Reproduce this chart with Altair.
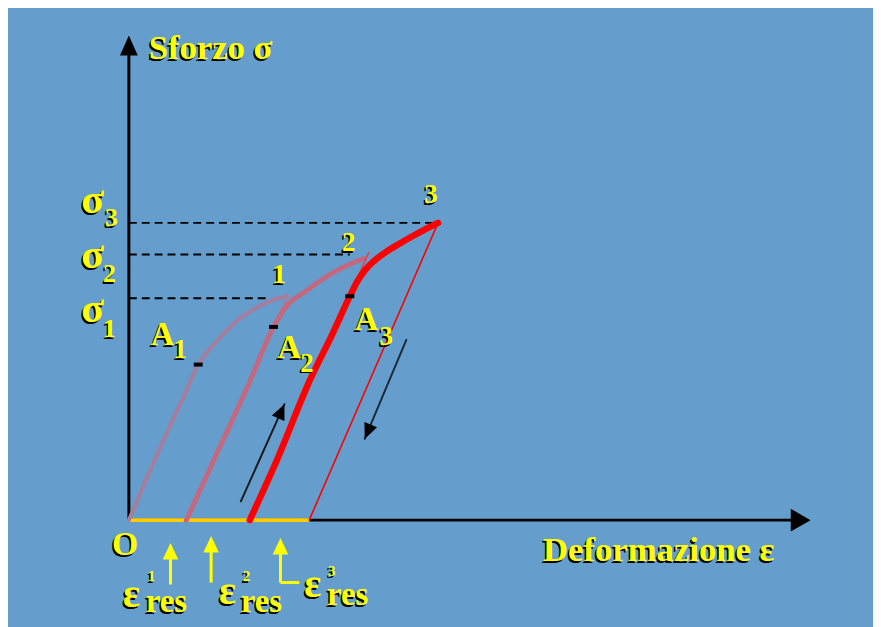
import altair as alt
import pandas as pd

# ---- data (strain eps, stress sigma in arbitrary units) ----
curve1_eps = [0.0, 2.0, 4.0, 5.5, 7.0, 9.0, 11.0, 13.0, 14.5, 16.0]
curve1_sig = [0.0, 4.7, 9.2, 12.4, 15.7, 18.2, 20.2, 21.5, 22.2, 22.6]
curve2_eps = [5.8, 9.0, 12.0, 14.6, 16.0, 17.7, 21.0, 22.7, 23.7]
curve2_sig = [0.0, 7.0, 13.5, 19.5, 21.7, 23.0, 25.2, 26.0, 26.4]
curve3_eps = [12.2, 15.0, 18.3, 20.5, 22.3, 23.0, 23.8, 24.8, 26.0, 27.3, 28.7, 30.0, 31.2]
curve3_sig = [0.0, 6.2, 14.2, 18.7, 22.6, 24.0, 25.2, 26.2, 27.1, 27.9, 28.7, 29.4, 30.0]

peak_eps = [16.0, 24.2, 31.2]
peak_sig = [22.6, 27.0, 30.0]
eps_res = [5.8, 12.2, 18.2]
sigma_levels = [22.4, 26.8, 30.0]
dash_end_eps = [14.0, 22.3, 31.0]
A_eps = [7.0, 14.6, 22.3]
A_sig = [15.7, 19.5, 22.6]

axis_eps_end = 68.8
axis_sig_end = 48.9

load_arrow_eps = [11.3, 15.7]
load_arrow_sig = [1.9, 11.7]
unload_arrow_eps = [28.0, 23.8]
unload_arrow_sig = [18.2, 8.2]

res_arrow_eps = [4.2, 8.3, 15.3]
res_arrow_tip = [-2.3, -1.6, -1.8]
res_arrow_bottom = [-6.5, -6.3, -6.3]
res_arrow3_hook_end = 17.2

label_text = ["Sforzo σ", "Deformazione ε", "O",
              "σ", "3", "σ", "2", "σ", "1",
              "1", "2", "3",
              "A", "1", "A", "2", "A", "3",
              "ε", "1", "res", "ε", "2", "res", "ε", "3", "res"]
label_eps = [2.0, 41.8, -1.7,
             -4.8, -2.4, -4.8, -2.6, -4.8, -2.6,
             14.5, 21.5, 29.8,
             2.2, 4.5, 15.0, 17.3, 22.8, 25.3,
             -0.6, 1.9, 1.7, 9.1, 11.5, 11.3, 17.7, 20.1, 20.0]
label_sig = [46.5, -4.1, -3.5,
             31.0, 29.7, 25.4, 24.0, 20.0, 18.5,
             23.9, 27.2, 32.0,
             17.7, 16.4, 16.4, 15.0, 19.2, 17.7,
             -8.8, -6.1, -9.3, -8.5, -6.1, -9.3, -7.8, -5.6, -8.6]
label_size = [35, 35, 34,
              42, 26, 42, 26, 42, 26,
              27, 27, 27,
              33, 27, 33, 27, 33, 27,
              40, 15, 33, 40, 15, 33, 40, 15, 33]

# ---- scales ----
XS = alt.Scale(domain=[0, 70], range=[122, 822], nice=False, zero=False)
YS = alt.Scale(domain=[0, 50], range=[514, 14], nice=False, zero=False)


def X(f="eps"):
    return alt.X(f"{f}:Q", scale=XS, axis=None)


def Y(f="sig"):
    return alt.Y(f"{f}:Q", scale=YS, axis=None)


def line_df(eps, sig):
    return pd.DataFrame({"eps": eps, "sig": sig, "i": list(range(len(eps)))})


def curve(eps, sig, color, width, smooth=False):
    kw = dict(color=color, strokeWidth=width, strokeCap="round", strokeJoin="round")
    if smooth:
        kw["interpolate"] = "monotone"
    return alt.Chart(line_df(eps, sig)).mark_line(**kw).encode(
        x=X(), y=Y(), order=alt.Order("i:Q"))


layers = []

# axes
layers.append(alt.Chart(pd.DataFrame({"eps": [0.0], "sig": [0.0], "sig2": [axis_sig_end - 1.8]}))
              .mark_rule(color="black", strokeWidth=3)
              .encode(x=X(), y=Y(), y2="sig2:Q"))
layers.append(alt.Chart(pd.DataFrame({"eps": [0.0], "eps2": [axis_eps_end - 1.8], "sig": [0.0]}))
              .mark_rule(color="black", strokeWidth=3)
              .encode(x=X(), x2="eps2:Q", y=Y()))
layers.append(alt.Chart(pd.DataFrame({"eps": [0.0], "sig": [axis_sig_end]}))
              .mark_point(shape="M0,0L-0.9,2L0.9,2Z", filled=True, size=400,
                          color="black", opacity=1)
              .encode(x=X(), y=Y()))
layers.append(alt.Chart(pd.DataFrame({"eps": [axis_eps_end], "sig": [0.0]}))
              .mark_point(shape="M0,0L-2,-1.15L-2,1.15Z", filled=True, size=400,
                          color="black", opacity=1)
              .encode(x=X(), y=Y()))

# yellow residual strain segment
layers.append(alt.Chart(pd.DataFrame({"eps": [0.0], "eps2": [eps_res[2]], "sig": [0.0]}))
              .mark_rule(color="#ffcc00", strokeWidth=4)
              .encode(x=X(), x2="eps2:Q", y=Y()))

# dashed sigma levels
layers.append(alt.Chart(pd.DataFrame({"eps": [0.0] * 3, "eps2": dash_end_eps, "sig": sigma_levels}))
              .mark_rule(color="black", strokeWidth=2, strokeDash=[8, 5])
              .encode(x=X(), x2="eps2:Q", y=Y()))

# curves and unloading lines
layers.append(curve(curve1_eps, curve1_sig, "#a67d9c", 4, smooth=True))
layers.append(curve([peak_eps[0], eps_res[0]], [peak_sig[0], 0.0], "#b27a92", 1.5))
layers.append(curve(curve2_eps, curve2_sig, "#c4687f", 5, smooth=True))
layers.append(curve([peak_eps[1], eps_res[1]], [peak_sig[1], 0.0], "#e0404f", 1.5))
layers.append(curve(curve3_eps, curve3_sig, "#ff0000", 6.5, smooth=True))
layers.append(curve([peak_eps[2], eps_res[2]], [peak_sig[2], 0.0], "#ff0000", 1.6))

# markers A1..A3
layers.append(alt.Chart(pd.DataFrame({"eps": A_eps, "sig": A_sig}))
              .mark_tick(orient="horizontal", size=9, thickness=4, color="black", opacity=1)
              .encode(x=X(), y=Y()))

# black loading/unloading arrows
layers.append(curve(load_arrow_eps, load_arrow_sig, "#1a1a1a", 2))
layers.append(curve(unload_arrow_eps, unload_arrow_sig, "#1a2a3a", 2))
layers.append(alt.Chart(pd.DataFrame({"eps": [load_arrow_eps[1], unload_arrow_eps[1]],
                                      "sig": [load_arrow_sig[1], unload_arrow_sig[1]],
                                      "ang": [24.0, 203.0]}))
              .mark_point(shape="M0,0L-0.8,1.8L0.8,1.8Z", filled=True, size=300,
                          color="black", opacity=1)
              .encode(x=X(), y=Y(), angle=alt.Angle("ang:Q", scale=None)))

# yellow residual-strain arrows
layers.append(alt.Chart(pd.DataFrame({"eps": res_arrow_eps,
                                      "sig": [t - 1.0 for t in res_arrow_tip],
                                      "sig2": res_arrow_bottom}))
              .mark_rule(color="#ffff00", strokeWidth=3)
              .encode(x=X(), y=Y(), y2="sig2:Q"))
layers.append(alt.Chart(pd.DataFrame({"eps": [res_arrow_eps[2]], "eps2": [res_arrow3_hook_end],
                                      "sig": [res_arrow_bottom[2]]}))
              .mark_rule(color="#ffff00", strokeWidth=3)
              .encode(x=X(), x2="eps2:Q", y=Y()))
layers.append(alt.Chart(pd.DataFrame({"eps": res_arrow_eps, "sig": res_arrow_tip}))
              .mark_point(shape="M0,0L-0.7,1.5L0.7,1.5Z", filled=True, size=500,
                          color="#ffff00", opacity=1)
              .encode(x=X(), y=Y()))

# labels with black drop shadow
lab = pd.DataFrame({"t": label_text, "eps": label_eps, "sig": label_sig, "s": label_size})
for col, dx, dy in [("#000000", -1.5, 2), ("#ffff00", 0, 0)]:
    layers.append(alt.Chart(lab)
                  .mark_text(font="Liberation Serif", fontWeight="bold", align="left",
                             baseline="alphabetic", color=col, dx=dx, dy=dy)
                  .encode(x=X(), y=Y(), text="t:N", size=alt.Size("s:Q", scale=None)))

chart = (alt.layer(*layers)
         .properties(width=873, height=619, padding=0, autosize="none",
                     background="#659ecd")
         .configure_view(stroke=None))

chart.save("out.html", embed_options={"renderer": "svg", "actions": False})
